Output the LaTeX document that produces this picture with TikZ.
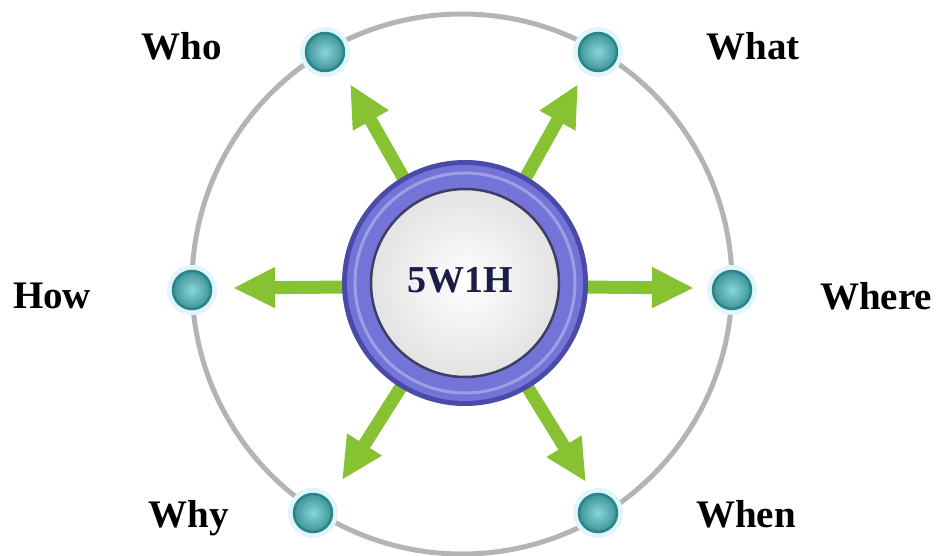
\documentclass[tikz,border=0pt]{standalone}
\usepackage{fontspec}
\setmainfont{Liberation Serif}
\usetikzlibrary{arrows.meta}
\definecolor{arrgreen}{HTML}{86C232}
\definecolor{ringgray}{HTML}{B4B4B4}
\definecolor{purp}{HTML}{7474D8}
\definecolor{purpdark}{HTML}{4A4AA8}
\definecolor{tealdark}{HTML}{2A8488}
\definecolor{teallight}{HTML}{8AD6D8}
\definecolor{navy}{HTML}{1C1C48}
\tikzset{
  spoke/.style={draw=arrgreen, line width=13pt,
    -{Triangle[length=42pt,width=38pt]}},
  dot/.style={circle, minimum size=38pt, inner sep=0pt, draw=tealdark,
    line width=2.5pt, inner color=teallight, outer color=tealdark!80!teallight},
  glow/.style={circle, minimum size=50pt, inner sep=0pt, fill=cyan!12},
  lab/.style={font=\fontsize{39}{39}\selectfont\bfseries, anchor=base, text=black},
}
\begin{document}
\begin{tikzpicture}[x=1pt,y=-1pt]
\useasboundingbox (0,0) rectangle (936,556);
\fill[white] (0,0) rectangle (936,556);
% outer gray circle
\draw[ringgray, line width=5pt] (462,284) circle (270);
% arrows
\coordinate (cc) at (465,286);
\coordinate (tR) at (694,288);
\coordinate (tL) at (233,288);
\coordinate (tUL) at (350,84);
\coordinate (tUR) at (578,84);
\coordinate (tDL) at (342,480);
\coordinate (tDR) at (586,482);
\foreach \t in {tR,tL,tUL,tUR,tDL,tDR} \draw[spoke] (cc) -- (\t);
% hub
\fill[purpdark] (465,283) circle (123);
\fill[purp] (465,283) circle (118);
\draw[purp!70!white, line width=3pt] (465,283) circle (110);
\fill[inner color=white, outer color=gray!22] (465,283) circle (94);
\draw[navy!85, line width=2.5pt] (465,283) circle (94);
\node[font=\fontsize{38}{38}\selectfont\bfseries, text=navy, anchor=base] (hub) at (460,292) {5W1H};
% dots
\foreach \n/\p in {dWho/{(325,52)}, dWhat/{(598,52)}, dHow/{(192,290)}, dWhere/{(732,290)}, dWhy/{(313,513)}, dWhen/{(598,513)}}{
  \node[glow] at \p {};
  \node[dot] (\n) at \p {};
}
% labels
\node[lab] (lWho) at (182,60) {Who};
\node[lab] (lWhat) at (753,60) {What};
\node[lab] (lHow) at (52,308) {How};
\node[lab] (lWhere) at (876,309) {Where};
\node[lab] (lWhy) at (189,527) {Why};
\node[lab] (lWhen) at (746,527) {When};
\end{tikzpicture}
\end{document}
